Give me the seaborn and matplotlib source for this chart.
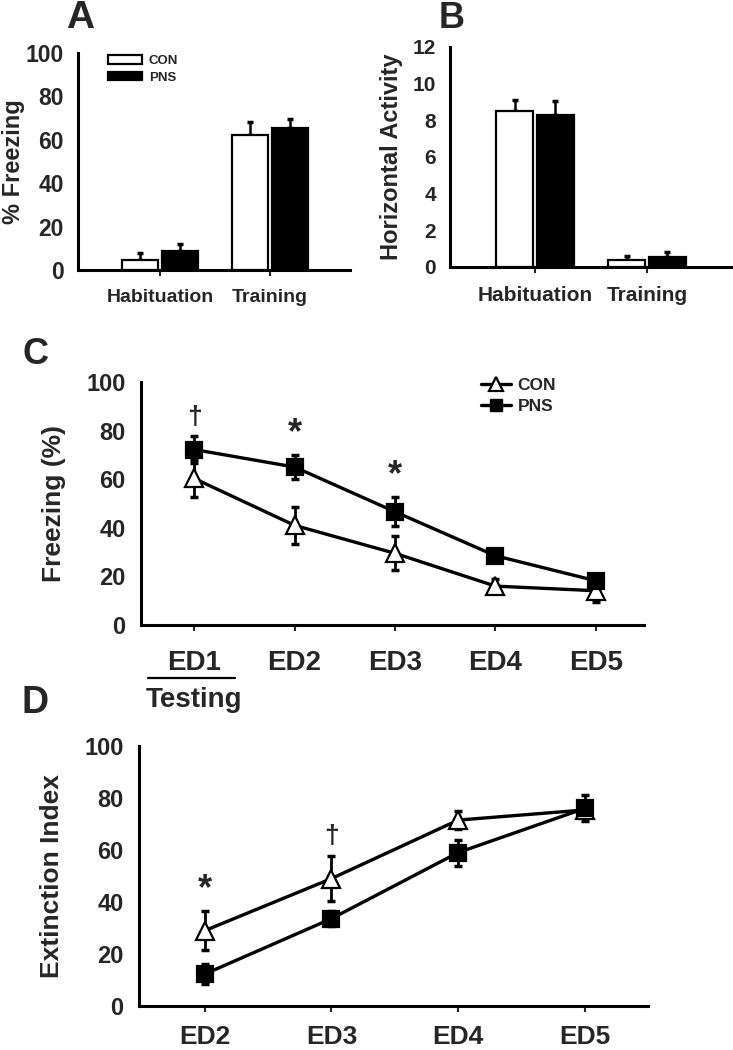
import numpy as np
import pandas as pd
import matplotlib
matplotlib.use("Agg")
import matplotlib.pyplot as plt
import matplotlib.transforms as mtrans
from matplotlib.patches import Patch
from matplotlib.lines import Line2D
import seaborn as sns

# ---------------- data ----------------
groups = ["CON", "PNS"]
phases = ["Habituation", "Training"]

freeze_con = [4.6, 62.0]
freeze_con_err = [3.1, 6.0]
freeze_pns = [8.9, 65.4]
freeze_pns_err = [2.9, 4.3]

act_con = [8.5, 0.4]
act_con_err = [0.6, 0.18]
act_pns = [8.27, 0.55]
act_pns_err = [0.77, 0.27]

days_c = ["ED1", "ED2", "ED3", "ED4", "ED5"]
c_con = [60.3, 41.0, 29.5, 16.0, 14.1]
c_con_err = [7.5, 7.5, 7.0, 2.8, 4.5]
c_pns = [72.2, 65.0, 46.6, 28.5, 18.2]
c_pns_err = [5.5, 5.0, 6.0, 2.5, 2.5]
c_sig = ["\u2020", "*", "*", "", ""]

days_d = ["ED2", "ED3", "ED4", "ED5"]
d_con = [29.0, 49.0, 71.5, 75.4]
d_con_err = [7.5, 8.7, 3.5, 2.5]
d_pns = [12.3, 33.6, 59.0, 76.0]
d_pns_err = [4.0, 3.0, 5.0, 5.0]
d_sig = ["*", "\u2020", "", ""]

# ---------------- style ----------------
sns.set_style("ticks")
plt.rcParams["font.family"] = ["Liberation Sans", "DejaVu Sans"]
plt.rcParams["font.weight"] = "bold"
plt.rcParams["axes.labelweight"] = "bold"

W, H = 733, 1050
fig = plt.figure(figsize=(W / 100, H / 100), dpi=100)


def px_axes(l, t, r, b):
    return fig.add_axes([l / W, 1 - b / H, (r - l) / W, (b - t) / H])


def style_axes(ax, lw=2.2):
    for s in ["top", "right"]:
        ax.spines[s].set_visible(False)
    for s in ["left", "bottom"]:
        ax.spines[s].set_linewidth(lw)
        ax.spines[s].set_color("black")


def bar_panel(ax, con, con_err, pns, pns_err, ylim, ystep, ylabel, tick_fs, lab_fs, xfs):
    df = pd.DataFrame({
        "phase": phases * 2,
        "group": [groups[0]] * 2 + [groups[1]] * 2,
        "value": list(con) + list(pns),
    })
    sns.barplot(data=df, x="phase", y="value", hue="group", order=phases,
                hue_order=groups, palette={"CON": "white", "PNS": "black"},
                edgecolor="black", linewidth=1.6, width=0.72, gap=0.08,
                errorbar=None, legend=False, ax=ax, zorder=3)
    errs = [con_err, pns_err]
    for cont, err in zip(ax.containers, errs):
        xs = [b.get_x() + b.get_width() / 2 for b in cont]
        hs = [b.get_height() for b in cont]
        ax.errorbar(xs, hs, yerr=[np.zeros(len(err)), err], fmt="none",
                    ecolor="black", elinewidth=1.8, capsize=2.5, capthick=2.5,
                    zorder=2)
    ax.set_ylim(*ylim)
    ax.set_yticks(np.arange(ylim[0], ylim[1] + 0.01, ystep))
    ax.set_ylabel(ylabel, fontsize=lab_fs, fontweight="bold")
    ax.set_xlabel("")
    style_axes(ax)
    ax.tick_params(axis="y", length=0, labelsize=tick_fs, pad=10)
    ax.tick_params(axis="x", length=4, width=1.5, labelsize=xfs, pad=10)
    for t in ax.get_xticklabels() + ax.get_yticklabels():
        t.set_fontweight("bold")


# ---------------- Panel A ----------------
axA = px_axes(78, 53, 350, 270)
bar_panel(axA, freeze_con, freeze_con_err, freeze_pns, freeze_pns_err,
          (0, 100), 20, "% Freezing", 16.5, 17, 14)
axA.set_xlim(-0.745, 1.727)
axA.yaxis.set_label_coords(-0.195, 0.5)
legA = axA.legend(handles=[Patch(facecolor="white", edgecolor="black", linewidth=1.6, label="CON"),
                           Patch(facecolor="black", edgecolor="black", linewidth=1.6, label="PNS")],
                  loc="upper left", bbox_to_anchor=(108 / W, 1 - 55 / H),
                  bbox_transform=fig.transFigure, frameon=False,
                  prop={"size": 9.5, "weight": "bold"}, handlelength=2.6,
                  handleheight=0.6, handletextpad=0.5, labelspacing=0.35,
                  borderaxespad=0, borderpad=0)

# ---------------- Panel B ----------------
axB = px_axes(450, 47, 732, 267)
bar_panel(axB, act_con, act_con_err, act_pns, act_pns_err,
          (0, 12), 2, "Horizontal Activity", 15, 17, 15)
axB.set_xlim(-0.76, 1.76)
axB.yaxis.set_label_coords(-0.167, 0.5)

# ---------------- line panels ----------------
def line_panel(ax, days, con, con_err, pns, pns_err, sig, ylabel, ms, xfs):
    idx = np.arange(len(days))
    ax.errorbar(idx, con, yerr=con_err, fmt="none", ecolor="black",
                elinewidth=2.0, capsize=3, capthick=2.5, zorder=2)
    ax.errorbar(idx, pns, yerr=pns_err, fmt="none", ecolor="black",
                elinewidth=2.0, capsize=3, capthick=2.5, zorder=2)
    sns.lineplot(x=idx, y=con, color="black", linewidth=2.4, marker="^",
                 markersize=ms, markerfacecolor="white", markeredgecolor="black",
                 markeredgewidth=1.6, ax=ax, zorder=3)
    sns.lineplot(x=idx, y=pns, color="black", linewidth=2.4, marker="s",
                 markersize=ms * 0.9, markerfacecolor="black", markeredgecolor="black",
                 markeredgewidth=1.6, ax=ax, zorder=4)
    for i, s in enumerate(sig):
        if s:
            top = max(con[i] + con_err[i], pns[i] + pns_err[i])
            if s == "*":
                ax.text(i, top + 1.5, s, ha="center", va="bottom",
                        fontsize=26, fontweight="bold")
            else:
                ax.text(i, top + 3, s, ha="center", va="bottom",
                        fontsize=19, fontweight="bold")
    ax.set_ylim(0, 100)
    ax.set_yticks(np.arange(0, 101, 20))
    ax.set_xticks(idx, days)
    ax.set_ylabel(ylabel, fontsize=19, fontweight="bold")
    style_axes(ax)
    ax.tick_params(axis="y", length=0, labelsize=17, pad=11)
    ax.tick_params(axis="x", length=4, width=1.5, labelsize=xfs)
    for t in ax.get_xticklabels() + ax.get_yticklabels():
        t.set_fontweight("bold")


# ---------------- Panel C ----------------
axC = px_axes(141, 382, 644, 625)
line_panel(axC, days_c, c_con, c_con_err, c_pns, c_pns_err, c_sig,
           "Freezing (%)", 13, 20)
axC.set_xlim(-0.53, 4.48)
axC.tick_params(axis="x", pad=14)
axC.yaxis.set_label_coords(-0.149, 0.5)
trC = mtrans.blended_transform_factory(axC.transData, axC.transAxes)
axC.plot([-0.46, 0.41], [-0.218, -0.218], color="black", lw=1.6,
         transform=trC, clip_on=False)
axC.text(0, -0.31, "Testing", transform=trC, ha="center", va="center",
         fontsize=20, fontweight="bold")
legC = axC.legend(handles=[
    Line2D([0], [0], color="black", lw=2.4, marker="^", markersize=10,
           markerfacecolor="white", markeredgecolor="black", markeredgewidth=1.6, label="CON"),
    Line2D([0], [0], color="black", lw=2.4, marker="s", markersize=9,
           markerfacecolor="black", markeredgecolor="black", label="PNS")],
    loc="upper left", bbox_to_anchor=(481 / W, 1 - 378 / H),
    bbox_transform=fig.transFigure, frameon=False,
    prop={"size": 12.5, "weight": "bold"}, handlelength=1.7,
    handletextpad=0.4, labelspacing=0.35, borderaxespad=0, borderpad=0)

# ---------------- Panel D ----------------
axD = px_axes(139, 746, 648, 1006)
line_panel(axD, days_d, d_con, d_con_err, d_pns, d_pns_err, d_sig,
           "Extinction Index", 13, 19)
axD.set_xlim(-0.52, 3.5)
axD.tick_params(axis="x", pad=10)
axD.yaxis.set_label_coords(-0.147, 0.5)

# ---------------- panel letters ----------------
for lab, x, y, fs in [("A", 80, 18, 28), ("B", 452, 18, 26),
                      ("C", 36, 354, 26), ("D", 35, 703, 27)]:
    fig.text(x / W, 1 - y / H, lab, ha="center", va="center",
             fontsize=fs, fontweight="bold")

fig.savefig("out.png", dpi=100, facecolor="white")
